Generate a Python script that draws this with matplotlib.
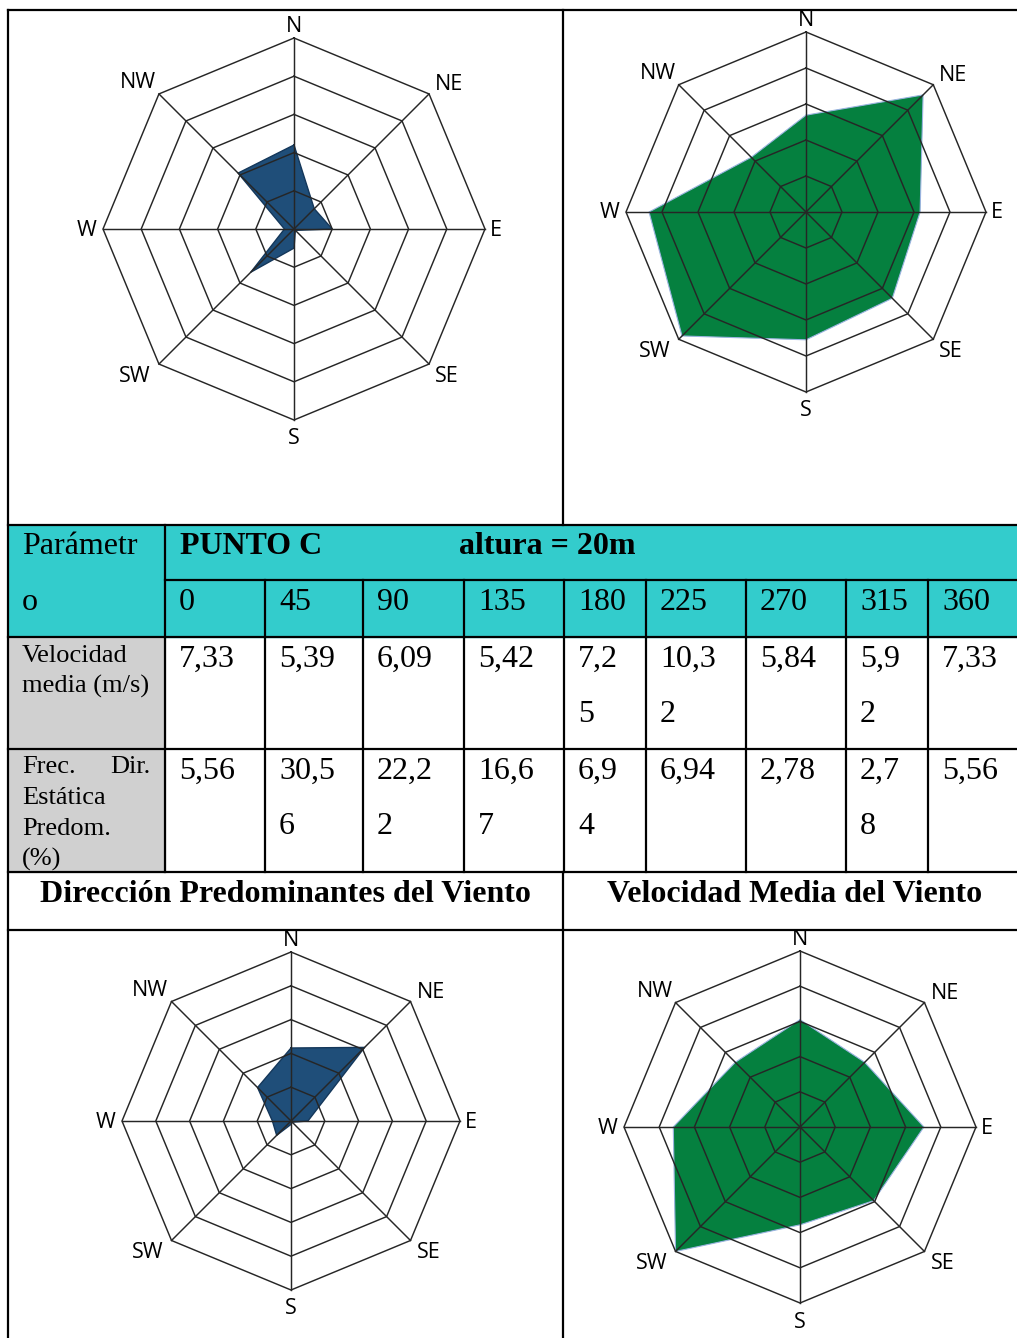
import matplotlib.pyplot as plt
import numpy as np
from matplotlib.patches import Rectangle

# table content
angles = ["0", "45", "90", "135", "180", "225", "270", "315", "360"]
vel_txt = ["7,33", "5,39", "6,09", "5,42", "7,2\n5", "10,3\n2", "5,84", "5,9\n2", "7,33"]
frec_txt = ["5,56", "30,5\n6", "22,2\n2", "16,6\n7", "6,9\n4", "6,94", "2,78", "2,7\n8", "5,56"]
dirs = ["N", "NE", "E", "SE", "S", "SW", "W", "NW"]

# radar values, in ring units (5 rings)
dir_top = [2.2, 0.75, 1.0, 0.05, 0.5, 1.6, 0.25, 2.07]
vel_top = [2.69, 4.6, 3.17, 3.39, 3.55, 4.87, 4.36, 2.15]
dir_bot = [2.16, 3.08, 0.5, 0.05, 0.1, 0.6, 0.55, 1.4]
vel_bot = [3.05, 2.6, 3.52, 2.96, 2.78, 5.0, 3.6, 2.6]

W, H = 1017, 1338
CYAN = "#33CCCC"
GREY = "#D0D0D0"
BLUE = "#1F4E79"
GREEN = "#05803F"
SERIF = "Liberation Serif"

fig = plt.figure(figsize=(W / 100, H / 100), dpi=100)
base = fig.add_axes([0, 0, 1, 1])
base.set_xlim(0, W)
base.set_ylim(H, 0)
base.axis("off")

col_x = [8, 165, 265, 363, 464, 564, 646, 746, 846, 928, 1017]

# cell backgrounds
base.add_patch(Rectangle((8, 525), W - 8, 112, color=CYAN, zorder=0))
base.add_patch(Rectangle((8, 637), 157, 235, color=GREY, zorder=0))

lw = 1.6
kw = dict(color="black", lw=lw, zorder=3)
base.plot([8, W], [10, 10], **kw)
base.plot([8, 8], [10, H], **kw)
base.plot([563, 563], [10, 525], **kw)
base.plot([563, 563], [872, H], **kw)
for yy in [525, 637, 749, 872, 930]:
    base.plot([8, W], [yy, yy], **kw)
base.plot([165, W], [580, 580], **kw)
base.plot([165, 165], [525, 872], **kw)
for xx in col_x[2:-1]:
    base.plot([xx, xx], [580, 872], **kw)

# header
base.text(22, 547, "Parámetr", family=SERIF, fontsize=23, va="center")
base.text(22, 602, "o", family=SERIF, fontsize=23, va="center")
base.text(180, 546, "PUNTO C", family=SERIF, fontsize=23, weight="bold", va="center")
base.text(459, 546, "altura = 20m", family=SERIF, fontsize=23, weight="bold", va="center")

for i, a in enumerate(angles):
    base.text(col_x[i + 1] + 14, 602, a, family=SERIF, fontsize=23, va="center")

# row labels
rl = dict(family=SERIF, fontsize=19, va="center")
base.text(22, 656, "Velocidad", **rl)
base.text(22, 686, "media (m/s)", **rl)
base.text(22, 767, "Frec.", **rl)
base.text(150, 767, "Dir.", ha="right", **rl)
base.text(22, 798, "Estática", **rl)
base.text(22, 829, "Predom.", **rl)
base.text(22, 859, "(%)", **rl)


def cell_text(txt, x, y0):
    for k, line in enumerate(txt.split("\n")):
        base.text(x, y0 + k * 55, line, family=SERIF, fontsize=23, va="center")


for i in range(len(angles)):
    cell_text(vel_txt[i], col_x[i + 1] + 14, 659)
    cell_text(frec_txt[i], col_x[i + 1] + 14, 771)

base.text(285, 895, "Dirección Predominantes del Viento", family=SERIF,
          fontsize=23, weight="bold", ha="center", va="center")
base.text(795, 895, "Velocidad Media del Viento", family=SERIF,
          fontsize=23, weight="bold", ha="center", va="center")

# label offsets in pixels (dx, dy, ha)
lab_off = {
    "N": (0, 12, "center"), "NE": (6, 9, "left"), "E": (5, -1, "left"),
    "SE": (6, -12, "left"), "S": (0, -19, "center"), "SW": (-8, -12, "right"),
    "W": (-6, -1, "right"), "NW": (-3, 11, "right"),
}


def radar(cx, cy, R, vals, color, edge, edge_lw):
    half = R + 60
    ax = fig.add_axes([(cx - half) / W, 1 - (cy + half) / H, 2 * half / W, 2 * half / H])
    lim = 5 * half / R
    ax.set_xlim(-lim, lim)
    ax.set_ylim(-lim, lim)
    ax.axis("off")
    th = np.deg2rad(np.arange(0, 360, 45))
    x, y = np.sin(th), np.cos(th)
    v = np.array(vals)
    ax.fill(v * x, v * y, color=color, zorder=1, lw=0)
    ax.plot(np.append(v * x, v[0] * x[0]), np.append(v * y, v[0] * y[0]),
            color=edge, lw=edge_lw, zorder=1.5)
    for r in range(1, 6):
        ax.plot(np.append(r * x, r * x[0]), np.append(r * y, r * y[0]),
                color="#262626", lw=1.05, zorder=2)
    for i in range(8):
        ax.plot([0, 5 * x[i]], [0, 5 * y[i]], color="#262626", lw=1.05, zorder=2)
        dx, dy, ha = lab_off[dirs[i]]
        ax.annotate(dirs[i], (5 * x[i], 5 * y[i]), xytext=(dx, dy),
                    textcoords="offset pixels", ha=ha, va="center",
                    family="Open Sans", fontsize=15.5, color="black")


radar(294, 229, 191, dir_top, BLUE, "#14375a", 1.0)
radar(806, 212, 180, vel_top, GREEN, "#9ab3e0", 0.8)
radar(291, 1121, 169, dir_bot, BLUE, "#14375a", 1.0)
radar(800, 1127, 176, vel_bot, GREEN, "#9ab3e0", 0.8)

fig.savefig("out.png", dpi=100)
